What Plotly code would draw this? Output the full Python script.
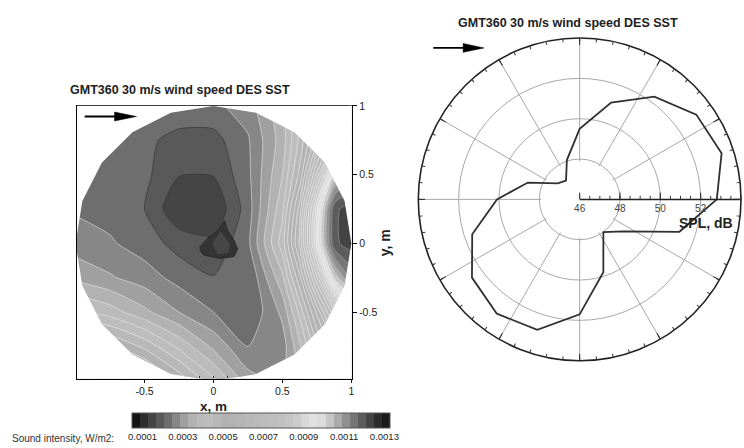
import numpy as np
import plotly.graph_objects as go

# ---------------------------------------------------------------------------
# Data
# ---------------------------------------------------------------------------
# Sound intensity (W/m2) sampled on the measurement plane, rows from y=-1 to y=1
grid_x = [-1.0, -0.75, -0.5, -0.25, 0.0, 0.25, 0.5, 0.625, 0.75, 0.875, 1.0]
grid_y = [-1.0, -0.75, -0.5, -0.25, 0.0, 0.25, 0.5, 0.75, 1.0]
intensity = [
    [7.2e-4, 6.8e-4, 6.2e-4, 5.2e-4, 4.2e-4, 3.1e-4, 2.8e-4, 3.4e-4, 4.4e-4, 5.4e-4, 6.4e-4],
    [5.8e-4, 5.4e-4, 4.8e-4, 4.0e-4, 3.2e-4, 2.5e-4, 2.7e-4, 3.6e-4, 4.8e-4, 6.0e-4, 7.2e-4],
    [4.2e-4, 3.9e-4, 3.4e-4, 2.9e-4, 2.5e-4, 2.13e-4, 3.0e-4, 4.2e-4, 5.8e-4, 7.6e-4, 9.0e-4],
    [3.2e-4, 2.95e-4, 2.7e-4, 2.35e-4, 2.12e-4, 2.1e-4, 3.6e-4, 5.2e-4, 7.6e-4, 10.2e-4, 11.4e-4],
    [2.7e-4, 2.55e-4, 2.3e-4, 1.95e-4, 1.8e-4, 2.4e-4, 4.3e-4, 6.2e-4, 9.4e-4, 12.0e-4, 12.3e-4],
    [2.45e-4, 2.35e-4, 2.1e-4, 1.35e-4, 1.35e-4, 2.3e-4, 4.0e-4, 5.9e-4, 9.2e-4, 12.0e-4, 12.3e-4],
    [2.35e-4, 2.3e-4, 2.2e-4, 1.72e-4, 1.72e-4, 2.4e-4, 3.7e-4, 5.0e-4, 7.4e-4, 10.2e-4, 11.2e-4],
    [2.35e-4, 2.3e-4, 2.2e-4, 1.95e-4, 1.95e-4, 2.45e-4, 3.5e-4, 4.6e-4, 6.0e-4, 7.6e-4, 9.2e-4],
    [2.4e-4, 2.35e-4, 2.3e-4, 2.4e-4, 2.4e-4, 2.7e-4, 3.6e-4, 4.6e-4, 5.8e-4, 7.2e-4, 8.6e-4],
]

# Turbine footprint in the measurement plane (m)
turbine_x = [-0.10, -0.04, 0.04, 0.08, 0.10, 0.15, 0.175, 0.15, 0.05, -0.07, -0.10]
turbine_y = [-0.03, 0.04, 0.10, 0.165, 0.10, 0.02, -0.04, -0.095, -0.11, -0.085, -0.05]
hub_x = [-0.01, 0.05, 0.12, 0.11, 0.03, -0.01]
hub_y = [0.0, 0.09, 0.0, -0.07, -0.08, 0.0]

# Colour bar ticks
cbar_ticks = [0.0001, 0.0003, 0.0005, 0.0007, 0.0009, 0.0011, 0.0013]
cbar_text = ["0.0001", "0.0003", "0.0005", "0.0007", "0.0009", "0.0011", "0.0013"]

# Directivity: sound pressure level around the turbine
spl_angle = [0, 18, 36, 54, 72, 90, 108, 126, 144, 162,
             180, 198, 216, 234, 252, 270, 288, 306, 324, 342]
spl_db = [52.8, 53.4, 53.15, 52.3, 51.05, 49.5, 48.05, 47.15, 47.35, 48.7,
          50.1, 51.6, 52.6, 53.0, 52.8, 51.7, 49.8, 48.0, 48.7, 51.2]
spl_ticks = [46, 48, 50, 52]

TITLE = "GMT360 30 m/s wind speed DES SST"

# ---------------------------------------------------------------------------
# Styling
# ---------------------------------------------------------------------------
W, H = 744, 448
FONT = "Arial, Liberation Sans, sans-serif"

# grey level of every filled band, lowest to highest
band_grays = ['#141414', '#2e2e2e', '#454545', '#595959', '#6e6e6e', '#878787',
              '#a0a0a0', '#b2b2b2', '#bbbbbb', '#bdbdbd', '#b8b8b8', '#b2b2b2',
              '#b3b3b3', '#b5b5b5', '#b8b8b8', '#bababa', '#bcbcbc', '#bebebe',
              '#c0c0c0', '#c4c4c4', '#cccccc', '#d8d8d8', '#e0e0e0', '#dcdcdc',
              '#c6c6c6', '#ababab', '#909090', '#767676', '#5c5c5c', '#444444',
              '#2c2c2c', '#1a1a1a']
n_band = len(band_grays)
fill_scale = [[k / (n_band - 1), c] for k, c in enumerate(band_grays)]
line_scale = [[0.0, '#343434'], [0.1, '#3c3c3c'], [0.134, '#cfcfcf'],
              [0.3, '#e4e4e4'], [0.78, '#eeeeee'], [0.84, '#a8a8a8'], [1.0, '#7a7a7a']]

LEV_SIZE = 0.00004
LEV_START = 0.00009
LEV_END = 0.00129


def px(x):
    return x / W


def py(y):
    return 1 - y / H


fig = go.Figure()

# filled intensity bands
fig.add_trace(go.Contour(
    x=grid_x, y=grid_y, z=intensity,
    zmin=LEV_START - LEV_SIZE, zmax=LEV_END + LEV_SIZE,
    contours=dict(start=LEV_START, end=LEV_END, size=LEV_SIZE,
                  coloring='fill', showlines=False),
    colorscale=fill_scale,
    line=dict(width=0, smoothing=0.6),
    hoverinfo='skip',
    colorbar=dict(orientation='h', x=px(262.5), xanchor='center',
                  y=py(413), yanchor='top', len=258, lenmode='pixels',
                  thickness=15, xpad=0, ypad=0,
                  outlinewidth=1, outlinecolor='#555555',
                  tickvals=cbar_ticks, ticktext=cbar_text, ticks='',
                  tickfont=dict(family=FONT, size=9.5, color='#222222')),
    xaxis='x', yaxis='y',
))

# iso-lines on top of the bands
fig.add_trace(go.Contour(
    x=grid_x, y=grid_y, z=intensity,
    contours=dict(start=LEV_START, end=LEV_END, size=LEV_SIZE, coloring='lines'),
    colorscale=line_scale, showscale=False,
    line=dict(width=0.8, smoothing=0.6),
    hoverinfo='skip', xaxis='x', yaxis='y',
))

# turbine
fig.add_trace(go.Scatter(x=turbine_x, y=turbine_y, mode='lines', fill='toself',
                         fillcolor='#343434', line=dict(color='#2a2a2a', width=1),
                         hoverinfo='skip', xaxis='x', yaxis='y'))
fig.add_trace(go.Scatter(x=hub_x, y=hub_y, mode='lines', fill='toself',
                         fillcolor='#474747', line=dict(color='#3a3a3a', width=0.5),
                         hoverinfo='skip', xaxis='x', yaxis='y'))

# circular measurement domain (20-sided mesh boundary); mask everything outside it
ang = np.deg2rad(np.arange(0, 360, 18))
poly = " L ".join(f"{np.cos(a):.4f},{np.sin(a):.4f}" for a in ang)
mask_path = "M -1.5,-1.5 L 1.5,-1.5 L 1.5,1.5 L -1.5,1.5 Z M " + poly + " Z"

shapes = [
    dict(type='path', path=mask_path, xref='x', yref='y', fillcolor='white',
         fillrule='evenodd', line=dict(width=0), layer='above'),
    # wind direction arrows
    dict(type='line', xref='paper', yref='paper', x0=px(85), y0=py(112),
         x1=px(118), y1=py(112), line=dict(color='black', width=1.8)),
    dict(type='path', xref='paper', yref='paper',
         path=f"M {px(115)},{py(107.5)} L {px(137)},{py(112)} L {px(115)},{py(116.5)} Z",
         fillcolor='black', line=dict(color='black', width=0.5)),
    dict(type='line', xref='paper', yref='paper', x0=px(435), y0=py(42.5),
         x1=px(468), y1=py(42.5), line=dict(color='black', width=1.8)),
    dict(type='path', xref='paper', yref='paper',
         path=f"M {px(465)},{py(38)} L {px(486)},{py(42.5)} L {px(465)},{py(47)} Z",
         fillcolor='black', line=dict(color='black', width=0.5)),
]

# polar directivity plot: white core hides the spokes inside the 48 dB ring
core_theta = list(range(0, 361, 5))
fig.add_trace(go.Scatterpolar(r=[47.9] * len(core_theta), theta=core_theta,
                              mode='lines', fill='toself', fillcolor='white',
                              line=dict(width=0), hoverinfo='skip', subplot='polar'))
fig.add_trace(go.Scatterpolar(r=spl_db + spl_db[:1], theta=spl_angle + [360],
                              mode='lines', line=dict(color='#303030', width=1.8),
                              hoverinfo='skip', subplot='polar'))
# minor tick overlay
fig.add_trace(go.Scatterpolar(r=[], theta=[], subplot='polar2', hoverinfo='skip'))

polar_domain = dict(x=[px(420), 1.0], y=[py(360), py(32)])


def label(text, x, y, size, **kw):
    return dict(text=text, x=px(x), y=py(y), xref='paper', yref='paper',
                xanchor=kw.pop('xanchor', 'center'), yanchor='middle',
                showarrow=False, font=dict(family=FONT, size=size,
                                           color=kw.pop('color', '#222222')), **kw)


annotations = [
    label(f"<b>{TITLE}</b>", 181, 85, 12.5),
    label(f"<b>{TITLE}</b>", 570, 17, 12.5),
    label("<b>x, m</b>", 214, 406, 13.5),
    label("<b>y, m</b>", 386, 240, 14, textangle=-90),
    label("<b>SPL, dB</b>", 709, 220, 14),
    label("Sound intensity, W/m2:", 116, 438, 10, xanchor='right', color='#333333'),
]

fig.update_layout(
    width=W, height=H, margin=dict(l=0, r=0, t=0, b=0),
    paper_bgcolor='white', plot_bgcolor='white', showlegend=False,
    font=dict(family=FONT, size=11, color='#222222'),
    xaxis=dict(domain=[px(77.3), px(353.3)], range=[-0.99, 1.004],
               tickvals=[-0.5, 0, 0.5, 1], ticktext=['-0.5', '0', '0.5', '1'],
               ticks='outside', ticklen=3, tickcolor='black',
               showline=True, linecolor='black', linewidth=1.3, mirror=True,
               showgrid=False, zeroline=False,
               minor=dict(ticks='inside', dtick=0.1, ticklen=2.5, tickcolor='#333333'),
               tickfont=dict(size=10.5, color='#222222')),
    yaxis=dict(domain=[py(377.7), py(101)], range=[-0.984, 1.002], side='right',
               anchor='x',
               tickvals=[-0.5, 0, 0.5, 1], ticktext=['-0.5', '0', '0.5', '1'],
               ticks='outside', ticklen=4, tickcolor='black',
               showline=True, linecolor='black', linewidth=1.3, mirror=True,
               showgrid=False, zeroline=False,
               minor=dict(ticks='inside', dtick=0.1, ticklen=2.5, tickcolor='#333333'),
               tickfont=dict(size=10.5, color='#222222')),
    polar=dict(
        domain=polar_domain, bgcolor='white',
        radialaxis=dict(range=[46, 54], tickvals=spl_ticks, angle=0, tickangle=0,
                        side='clockwise', ticks='inside', ticklen=6, tickcolor='#222222',
                        showline=True, linecolor='#222222', linewidth=1.5,
                        gridcolor='#a8a8a8', gridwidth=1, layer='above traces',
                        tickfont=dict(family=FONT, size=10, color='#444444')),
        angularaxis=dict(rotation=0, direction='counterclockwise', dtick=30,
                         ticks='inside', ticklen=6, tickcolor='#222222',
                         showticklabels=False, showline=True, linecolor='#222222',
                         linewidth=1.6, gridcolor='#a8a8a8', gridwidth=1),
    ),
    polar2=dict(
        domain=polar_domain, bgcolor='rgba(0,0,0,0)',
        radialaxis=dict(range=[46, 54], dtick=0.5, tick0=46, angle=0,
                        side='clockwise', ticks='inside', ticklen=3, tickcolor='#333333',
                        showline=False, showgrid=False, showticklabels=False),
        angularaxis=dict(rotation=0, direction='counterclockwise', dtick=6,
                         ticks='inside', ticklen=3, tickcolor='#333333',
                         showticklabels=False, showline=False, showgrid=False),
    ),
    shapes=shapes,
    annotations=annotations,
)

fig.write_html("out.html")
